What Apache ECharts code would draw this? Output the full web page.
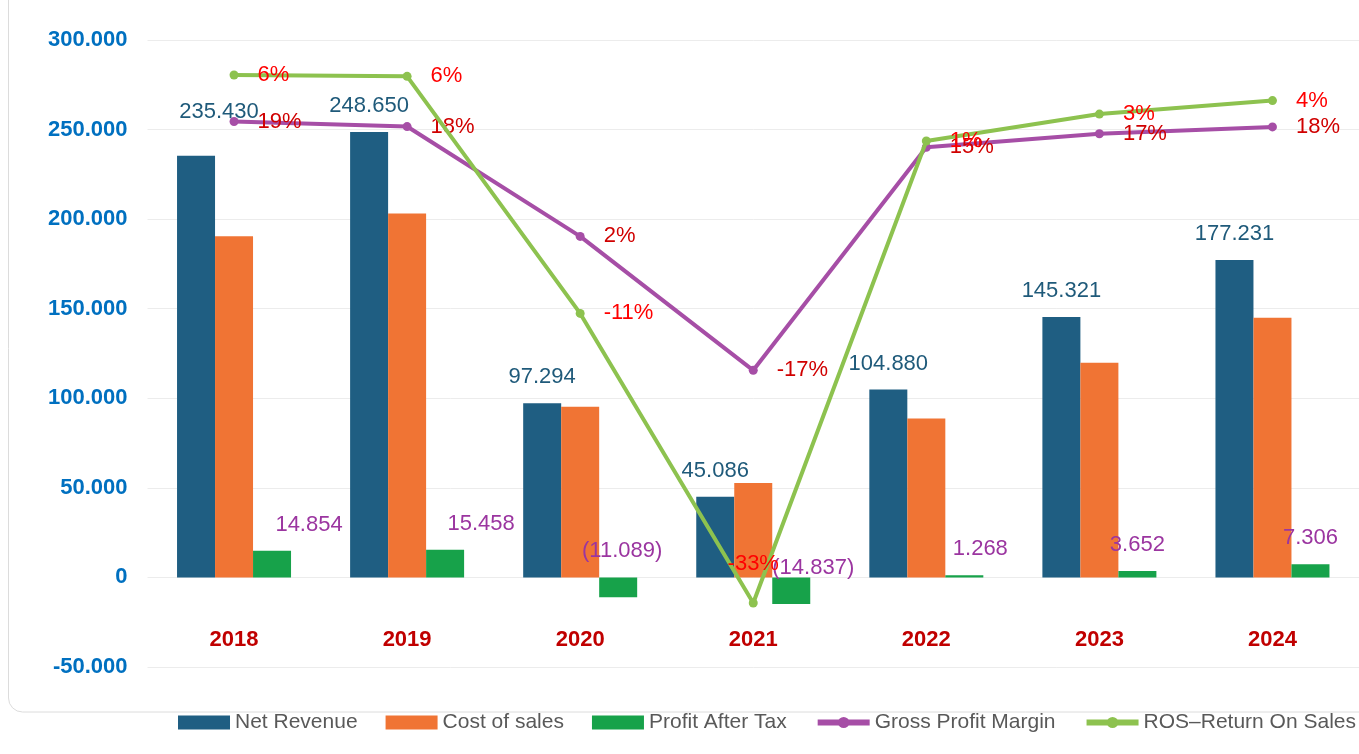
<!DOCTYPE html>
<html>
<head>
<meta charset="utf-8">
<script src="https://cdn.jsdelivr.net/npm/echarts@6/dist/echarts.min.js"></script>
<style>
  html, body { margin: 0; padding: 0; background: #fff; }
  #chart { width: 1359px; height: 754px; }
</style>
</head>
<body>
<div id="chart"></div>
<script>
const years = ['2018', '2019', '2020', '2021', '2022', '2023', '2024'];
const netRevenue = [235430, 248650, 97294, 45086, 104880, 145321, 177231];
const costOfSales = [190500, 203200, 95300, 52700, 88700, 119900, 145000];
const profitAfterTax = [14854, 15458, -11089, -14837, 1268, 3652, 7306];
const grossMargin = [19.2, 18.45, 2.3, -17.4, 15.4, 17.4, 18.4];
const returnOnSales = [6.3, 6.2, -11.4, -32.9, 1.4, 3.4, 4.4];

// hand-moved labels in the original
const revLabelShift = { 0: [23, -18] };
const patLabelShift = { 0: [37, 0], 1: [36, 0], 2: [4, 0], 3: [22, 17], 4: [16, 0] };
const rosLabelOnTop = [3];

const font = "'Liberation Sans', Arial, sans-serif";

const dots = (v) => Math.abs(Math.round(v)).toString().replace(/\B(?=(\d{3})+(?!\d))/g, '.');
const money = (v) => (v < 0 ? '(' + dots(v) + ')' : dots(v));
const axisMoney = (v) => (v < 0 ? '-' : '') + dots(v);
const pct = (v) => Math.round(v) + '%';

const withShift = (arr, shifts) => arr.map((v, i) =>
  shifts[i] ? { value: v, label: { offset: shifts[i] } } : v);

const chart = echarts.init(document.getElementById('chart'));
chart.setOption({
  backgroundColor: '#fff',
  animation: false,
  graphic: [{
    type: 'rect',
    shape: { x: 8.5, y: -20, width: 1400, height: 732, r: 14 },
    style: { fill: 'none', stroke: '#dcdcdc', lineWidth: 1 },
    silent: true,
    z: -1
  }],
  grid: { left: 147.5, right: -6.5, top: 40, bottom: 87 },
  legend: {
    left: 178,
    top: 712,
    width: 1400,
    padding: 0,
    itemWidth: 52,
    itemHeight: 14,
    itemGap: 28,
    textStyle: { fontFamily: font, fontSize: 21, color: '#595959' },
    data: [
      { name: 'Net Revenue', icon: 'rect' },
      { name: 'Cost of sales', icon: 'rect' },
      { name: 'Profit After Tax', icon: 'rect' },
      { name: 'Gross Profit Margin', lineStyle: { width: 6 } },
      { name: 'ROS\u2013Return On Sales', lineStyle: { width: 6 } }
    ]
  },
  xAxis: {
    type: 'category',
    data: years,
    axisLine: { show: false, onZero: false },
    axisTick: { show: false },
    axisLabel: {
      margin: -38,
      color: '#c00000',
      fontWeight: 'bold',
      fontSize: 22,
      fontFamily: font
    }
  },
  yAxis: [
    {
      type: 'value',
      min: -50000,
      max: 300000,
      interval: 50000,
      axisLine: { show: false },
      axisTick: { show: false },
      splitLine: { lineStyle: { color: '#ececec', width: 1 } },
      axisLabel: {
        margin: 20,
        color: '#0070c0',
        fontWeight: 'bold',
        fontSize: 22,
        fontFamily: font,
        formatter: axisMoney
      }
    },
    { type: 'value', show: false, min: -61.03, max: 31.18, splitLine: { show: false } },
    { type: 'value', show: false, min: -37.65, max: 8.9, splitLine: { show: false } }
  ],
  series: [
    {
      name: 'Net Revenue',
      type: 'bar',
      barWidth: 38,
      barGap: '0%',
      itemStyle: { color: '#1f5e82' },
      label: {
        show: true,
        position: 'top',
        distance: 15,
        color: '#1f5a7a',
        fontSize: 22,
        fontFamily: font,
        formatter: (p) => money(p.value)
      },
      data: withShift(netRevenue, revLabelShift)
    },
    {
      name: 'Cost of sales',
      type: 'bar',
      barWidth: 38,
      barGap: '0%',
      itemStyle: { color: '#f07434' },
      data: costOfSales
    },
    {
      name: 'Profit After Tax',
      type: 'bar',
      barWidth: 38,
      barGap: '0%',
      itemStyle: { color: '#17a24a' },
      label: {
        show: true,
        position: 'top',
        distance: 15,
        color: '#9b35a0',
        fontSize: 22,
        fontFamily: font,
        formatter: (p) => money(p.value)
      },
      data: withShift(profitAfterTax, patLabelShift)
    },
    {
      name: 'Gross Profit Margin',
      type: 'line',
      yAxisIndex: 1,
      symbol: 'circle',
      symbolSize: 9,
      lineStyle: { color: '#a64ea6', width: 4 },
      itemStyle: { color: '#a64ea6' },
      label: {
        show: true,
        position: 'right',
        distance: 19,
        color: '#d00000',
        fontSize: 22,
        fontFamily: font,
        formatter: (p) => pct(p.value)
      },
      data: grossMargin,
      z: 3
    },
    {
      name: 'ROS\u2013Return On Sales',
      type: 'line',
      yAxisIndex: 2,
      symbol: 'circle',
      symbolSize: 9,
      lineStyle: { color: '#8dc24f', width: 4 },
      itemStyle: { color: '#8dc24f' },
      label: {
        show: true,
        position: 'right',
        distance: 19,
        color: '#ff0000',
        fontSize: 22,
        fontFamily: font,
        formatter: (p) => pct(p.value)
      },
      data: returnOnSales.map((v, i) => rosLabelOnTop.includes(i)
        ? { value: v, label: { position: 'top', distance: 24 } } : v),
      z: 4
    }
  ]
});
</script>
</body>
</html>
